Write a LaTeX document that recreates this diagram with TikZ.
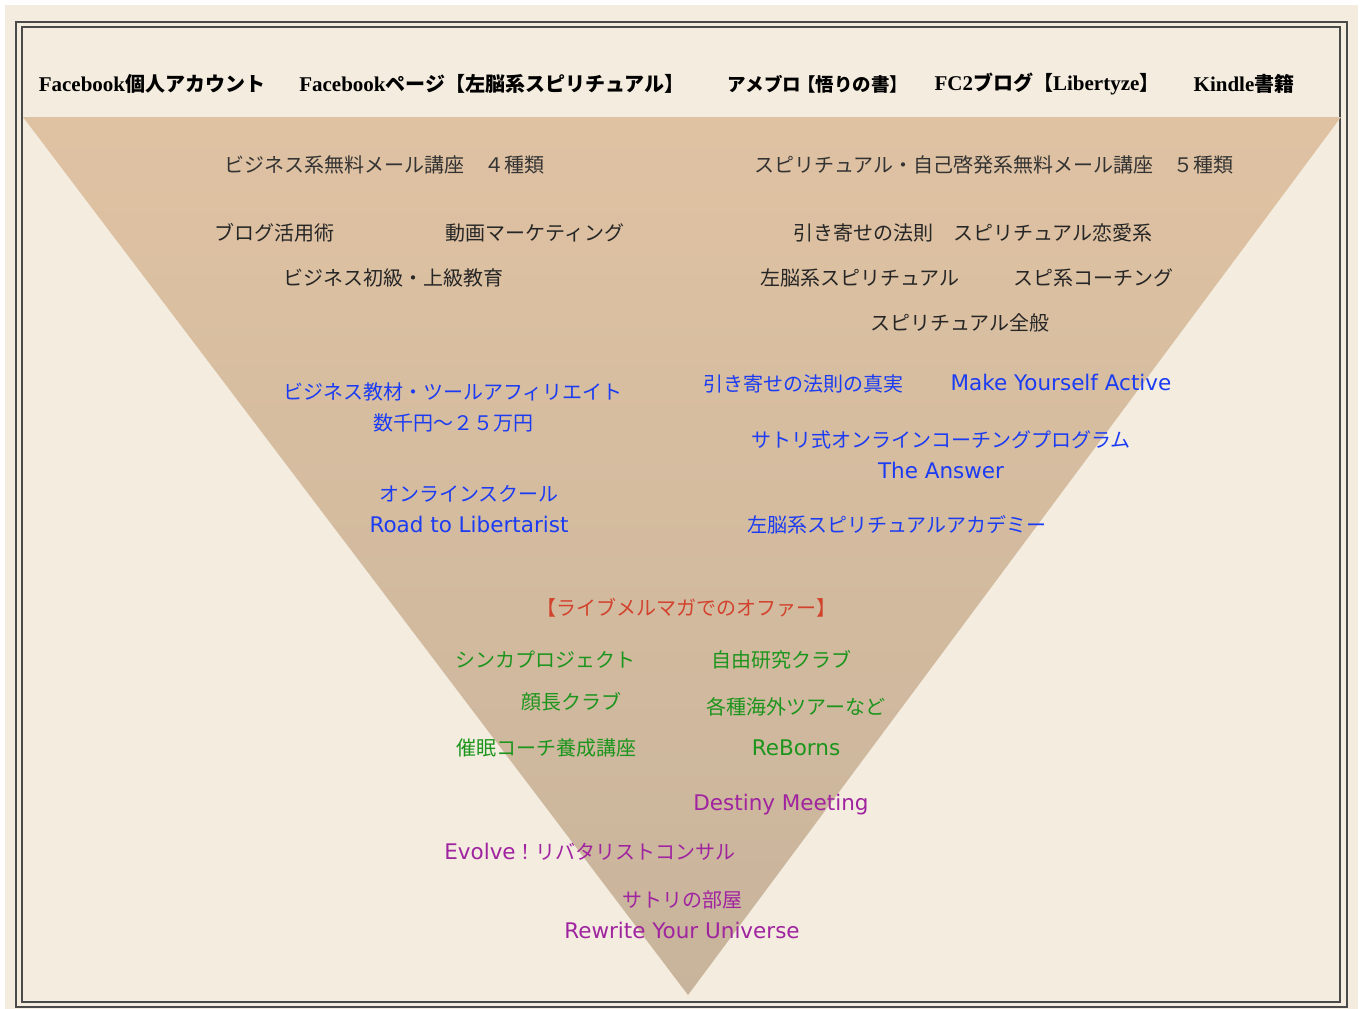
\documentclass[tikz,border=0pt]{standalone}
\usepackage{fontspec}
\newfontfamily\cjk{Noto Sans CJK JP}
\newfontfamily\lser{Liberation Serif}
\newfontfamily\lsans{DejaVu Sans}
\newcommand\lat[1]{{\fontsize{21.5}{24}\selectfont\lsans #1}}
\definecolor{paper}{HTML}{F3ECDF}
\definecolor{tritop}{HTML}{DFC2A2}
\definecolor{tribot}{HTML}{C8B49C}
\definecolor{frame}{HTML}{4A4A4A}
\definecolor{graytxt}{HTML}{333333}
\definecolor{bluetxt}{HTML}{1B3CF2}
\definecolor{greentxt}{HTML}{1C951C}
\definecolor{redtxt}{HTML}{D2432E}
\definecolor{purptxt}{HTML}{A023A0}
\begin{document}
\begin{tikzpicture}[x=1pt,y=-1pt,
  txt/.style={inner sep=0pt,anchor=center,font=\fontsize{20}{24}\selectfont\cjk},
  hdr/.style={txt,text=black,font=\fontsize{20}{24}\selectfont\cjk\bfseries},
  srf/.style={txt,text=black!85},
  gry/.style={txt,text=graytxt},
  blu/.style={txt,text=bluetxt},
  grn/.style={txt,text=greentxt},
  rd/.style={txt,text=redtxt},
  pur/.style={txt,text=purptxt},
  twoline/.style={align=center,font=\fontsize{20}{31}\selectfont\cjk}]
\useasboundingbox (0,0) rectangle (1363,1009);
\fill[white] (0,0) rectangle (1363,1009);
\fill[paper] (5,5) rectangle (1358,1009);
% frame
\draw[frame,line width=1.3pt] (16,22) rectangle (1347,1007);
\draw[frame,line width=2.8pt] (22,27) rectangle (1340,1002);
% funnel
\shade[top color=tritop,bottom color=tribot] (23,117) -- (1341,117) -- (688,995) -- cycle;
% header
\node[hdr] (h1) at (152,84) {{\lser\bfseries\fontsize{21}{24}\selectfont Facebook}個人アカウント};
\node[hdr] (h2) at (492,84) {{\lser\bfseries\fontsize{21}{24}\selectfont Facebook}ページ【左脳系スピリチュアル】};
\node[hdr,font=\fontsize{18.5}{24}\selectfont\cjk\bfseries] (h3) at (818,84) {アメブロ\kern-4pt【悟りの書】};
\node[hdr] (h4) at (1047,84) {{\lser\bfseries\fontsize{21}{24}\selectfont FC2}ブログ【{\lser\bfseries\fontsize{21}{24}\selectfont Libertyze}】};
\node[hdr] (h5) at (1244,84) {{\lser\bfseries\fontsize{21}{24}\selectfont Kindle}書籍};
% free mail courses
\node[gry] (m1) at (384,165) {ビジネス系無料メール講座　４種類};
\node[gry] (m2) at (994,165) {スピリチュアル・自己啓発系無料メール講座　５種類};
\node[srf] (b1) at (274,233) {ブログ活用術};
\node[srf] (b2) at (535,233) {動画マーケティング};
\node[srf] (b3) at (393,278) {ビジネス初級・上級教育};
\node[srf] (s1) at (973,233) {引き寄せの法則　スピリチュアル恋愛系};
\node[srf] (s2) at (860,278) {左脳系スピリチュアル};
\node[srf] (s3) at (1093,278) {スピ系コーチング};
\node[srf] (s4) at (960,323) {スピリチュアル全般};
% paid products
\node[blu,twoline] (p1) at (453,407) {ビジネス教材・ツールアフィリエイト\\数千円～２５万円};
\node[blu,twoline] (p2) at (469,509) {オンラインスクール\\\lat{Road to Libertarist}};
\node[blu] (p3) at (803,384) {引き寄せの法則の真実};
\node[blu] (p4) at (1061,382) {\lat{Make Yourself Active}};
\node[blu,twoline] (p5) at (941,455) {サトリ式オンラインコーチングプログラム\\\lat{The Answer}};
\node[blu] (p6) at (897,525) {左脳系スピリチュアルアカデミー};
% live offers
\node[rd] (r1) at (686,608) {【ライブメルマガでのオファー】};
\node[grn] (g1) at (545,660) {シンカプロジェクト};
\node[grn] (g2) at (781,660) {自由研究クラブ};
\node[grn] (g3) at (571,702) {顔長クラブ};
\node[grn] (g4) at (796,707) {各種海外ツアーなど};
\node[grn] (g5) at (546,748) {催眠コーチ養成講座};
\node[grn] (g6) at (796,748) {\lat{ReBorns}};
% top tier
\node[pur] (v1) at (781,805) {\lat{Destiny Meeting}};
\node[pur] (v2) at (590,852) {\lat{Evolve}！リバタリストコンサル};
\node[pur,twoline] (v3) at (682,915) {サトリの部屋\\\lat{Rewrite Your Universe}};
\end{tikzpicture}
\end{document}
